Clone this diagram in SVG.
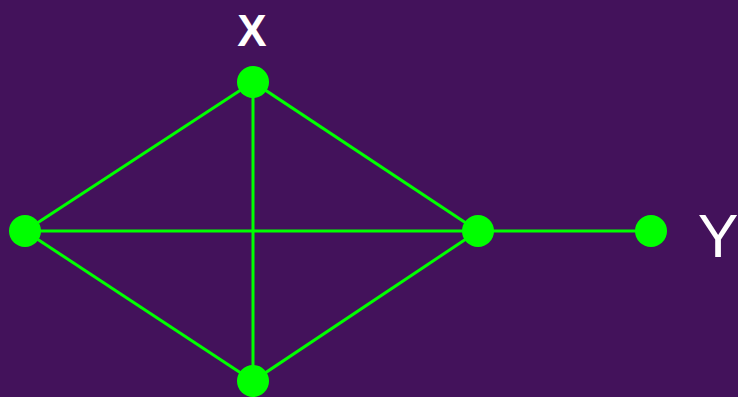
<svg xmlns="http://www.w3.org/2000/svg" width="738" height="397" viewBox="0 0 738 397">
<style>
.e{stroke:#00ff00;stroke-width:3;fill:none}
.n{fill:#00ff00}
.t{fill:#ffffff;font-family:"Liberation Sans",Arial,sans-serif}
</style>
<rect width="738" height="397" fill="#43125b"/>
<g id="edges">
<line class="e" x1="253" y1="82" x2="25" y2="231"/>
<line class="e" x1="253" y1="82" x2="478" y2="231"/>
<line class="e" x1="253" y1="82" x2="253" y2="381"/>
<line class="e" x1="25" y1="231" x2="478" y2="231"/>
<line class="e" x1="25" y1="231" x2="253" y2="381"/>
<line class="e" x1="478" y1="231" x2="253" y2="381"/>
<line class="e" x1="478" y1="231" x2="651" y2="231"/>
</g>
<g id="nodeX"><circle class="n" cx="253" cy="82" r="16"/><text class="t" x="252" y="46" font-size="44" font-weight="bold" text-anchor="middle">X</text></g>
<g id="nodeL"><circle class="n" cx="25" cy="231" r="16"/></g>
<g id="nodeR"><circle class="n" cx="478" cy="231" r="16"/></g>
<g id="nodeB"><circle class="n" cx="253" cy="381" r="16"/></g>
<g id="nodeY"><circle class="n" cx="651" cy="231" r="16"/><text class="t" x="718" y="257" font-size="61" text-anchor="middle">Y</text></g>
</svg>
